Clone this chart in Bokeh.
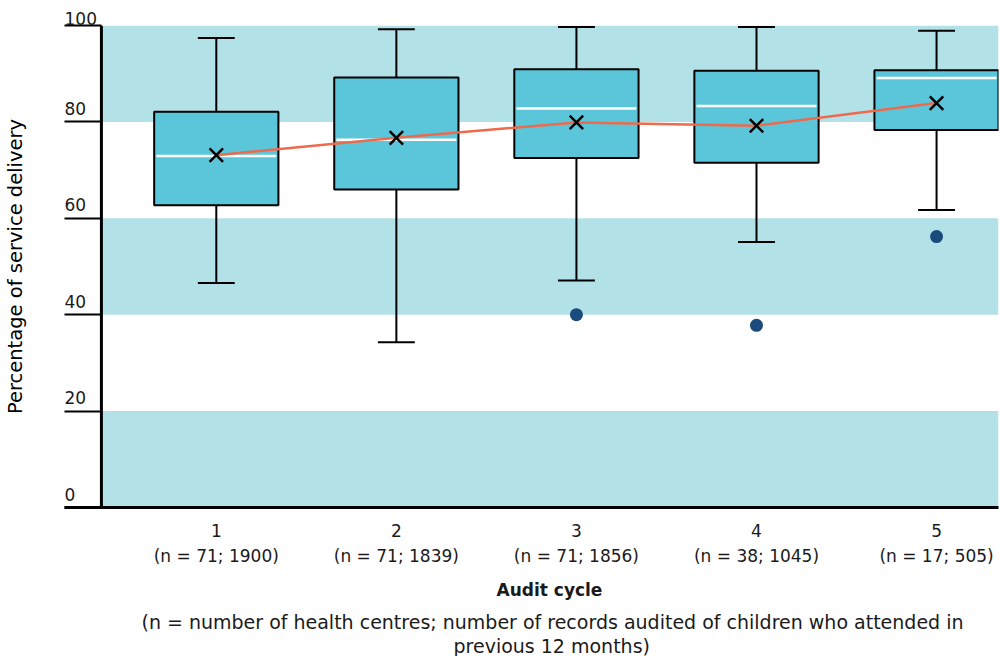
from bokeh.plotting import figure
from bokeh.models import (ColumnDataSource, BoxAnnotation, FixedTicker, LabelSet,
                          Title, Range1d)
from bokeh.core.properties import value
from bokeh.embed import file_html
from bokeh.resources import INLINE

# Audit cycles and sample sizes
cycles = [1, 2, 3, 4, 5]
n_centres = [71, 71, 71, 38, 17]
n_records = [1900, 1839, 1856, 1045, 505]

# Five-number summaries and means (% of service delivery)
upper_whisker = [97.4, 99.2, 99.7, 99.7, 98.9]
q3 = [82.1, 89.2, 90.9, 90.6, 90.7]
median = [72.9, 76.3, 82.8, 83.3, 89.1]
mean = [73.1, 76.7, 79.9, 79.2, 83.9]
q1 = [62.7, 66.0, 72.5, 71.5, 78.3]
lower_whisker = [46.6, 34.3, 47.1, 55.1, 61.7]

# Outlying health centres
outlier_cycle = [3, 4, 5]
outlier_value = [40.0, 37.8, 56.2]

# Axis ticks and shaded bands
y_ticks = [0, 20, 40, 60, 80, 100]
band_bottom = [0, 40, 80]
band_top = [20, 60, 100]

FONT = "DejaVu Sans"
TEXT = "#1a1a1a"
BAND = "#b3e1e8"
BOX = "#5bc6d9"
MEAN_LINE = "#ee6a4c"
OUTLIER = "#1b4a7c"

BOX_W = 0.69
CAP_W = 0.205
AXIS_X = 0.362          # where the vertical axis line is drawn
X_START, X_END = 0.157, 5.344

src = ColumnDataSource(dict(
    x=cycles, upper=upper_whisker, q3=q3, med=median, mean=mean, q1=q1, lower=lower_whisker,
    x0=[c - BOX_W / 2 + 0.012 for c in cycles], x1=[c + BOX_W / 2 - 0.012 for c in cycles],
    c0=[c - CAP_W / 2 for c in cycles], c1=[c + CAP_W / 2 for c in cycles],
))

p = figure(width=1000, height=656, output_backend="svg", toolbar_location=None,
           x_range=Range1d(X_START, X_END), y_range=Range1d(y_ticks[0], y_ticks[-1]),
           min_border_left=63, min_border_right=2, min_border_top=25, min_border_bottom=0)
p.outline_line_color = None
p.grid.visible = False
p.background_fill_color = "white"

# shaded bands, starting at the axis line
for lo, hi in zip(band_bottom, band_top):
    p.add_layout(BoxAnnotation(left=AXIS_X, bottom=lo, top=hi, fill_color=BAND, fill_alpha=1.0,
                               line_color=None, level="underlay"))

# vertical axis line
p.segment(x0=[AXIS_X], y0=[y_ticks[0]], x1=[AXIS_X], y1=[y_ticks[-1]],
          line_color="black", line_width=3)

# whiskers and caps
p.segment(x0="x", y0="q3", x1="x", y1="upper", source=src, line_color="black", line_width=2)
p.segment(x0="x", y0="q1", x1="x", y1="lower", source=src, line_color="black", line_width=2)
p.segment(x0="c0", y0="upper", x1="c1", y1="upper", source=src, line_color="black", line_width=2)
p.segment(x0="c0", y0="lower", x1="c1", y1="lower", source=src, line_color="black", line_width=2)

# boxes
p.vbar(x="x", width=BOX_W, top="q3", bottom="q1", source=src,
       fill_color=BOX, line_color="black", line_width=2)

# medians
p.segment(x0="x0", y0="med", x1="x1", y1="med", source=src, line_color="white", line_width=2.5)

# mean trend
p.line(x="x", y="mean", source=src, line_color=MEAN_LINE, line_width=2.5)
p.scatter(x="x", y="mean", source=src, marker="x", size=19, line_color="black", line_width=2.5)

# outliers
p.scatter(x=outlier_cycle, y=outlier_value, marker="circle", size=13,
          fill_color=OUTLIER, line_color=None)

# y axis: tick marks run inward from the frame edge up to the axis line
yax = p.yaxis[0]
yax.ticker = FixedTicker(ticks=y_ticks)
yax.major_tick_in = 37
yax.major_tick_out = 0
yax.major_tick_line_width = 2
yax.major_tick_line_color = "black"
yax.minor_tick_line_color = None
yax.axis_line_color = None
yax.major_label_text_color = None
yax.major_label_standoff = 0
yax.axis_label = "Percentage of service delivery"
yax.axis_label_text_font = FONT
yax.axis_label_text_font_size = "19.5px"
yax.axis_label_text_font_style = "normal"
yax.axis_label_text_color = "black"
yax.axis_label_standoff = 38

# y tick labels sit above each tick mark, left-aligned at its outer end
tick_src = ColumnDataSource(dict(y=y_ticks[:-1], text=[str(t) for t in y_ticks[:-1]]))
p.add_layout(LabelSet(x=0, y="y", text="text", source=tick_src, x_units="screen",
                      y_offset=7, text_align="left", text_baseline="alphabetic",
                      text_font=value(FONT), text_font_size="17px", text_color=TEXT))
# the top label lies above the plotting area
p.add_layout(Title(text=str(y_ticks[-1]), align="left", offset=0, text_font=FONT,
                   text_font_size="17px", text_font_style="normal", text_color=TEXT,
                   standoff=2), "above")

# x axis
xax = p.xaxis[0]
xax.ticker = FixedTicker(ticks=cycles)
xax.major_label_overrides = {c: f"{c}\n(n = {a}; {b})" for c, a, b in zip(cycles, n_centres, n_records)}
xax.major_tick_out = 0
xax.major_tick_in = 0
xax.minor_tick_line_color = None
xax.axis_line_width = 3
xax.axis_line_color = "black"
xax.major_label_standoff = 13
xax.major_label_text_font = FONT
xax.major_label_text_font_size = "17px"
xax.major_label_text_color = TEXT
xax.major_label_text_line_height = 1.25

# x axis title and explanatory note, placed from the left end of the frame
x_title = [("Audit cycle", "bold", "17px", 432, 18)]
note_lines = [("(n = number of health centres; number of records audited of children who attended in",
               "normal", "19px", 77, 0),
              ("previous 12 months)", "normal", "19px", 389, 0)]
for text, style, size, off, gap in x_title + note_lines:
    p.add_layout(Title(text=text, align="left", offset=off, text_font=FONT, text_font_size=size,
                       text_font_style=style, text_color=TEXT, standoff=gap), "below")

open("out.html", "w").write(file_html(p, INLINE))
